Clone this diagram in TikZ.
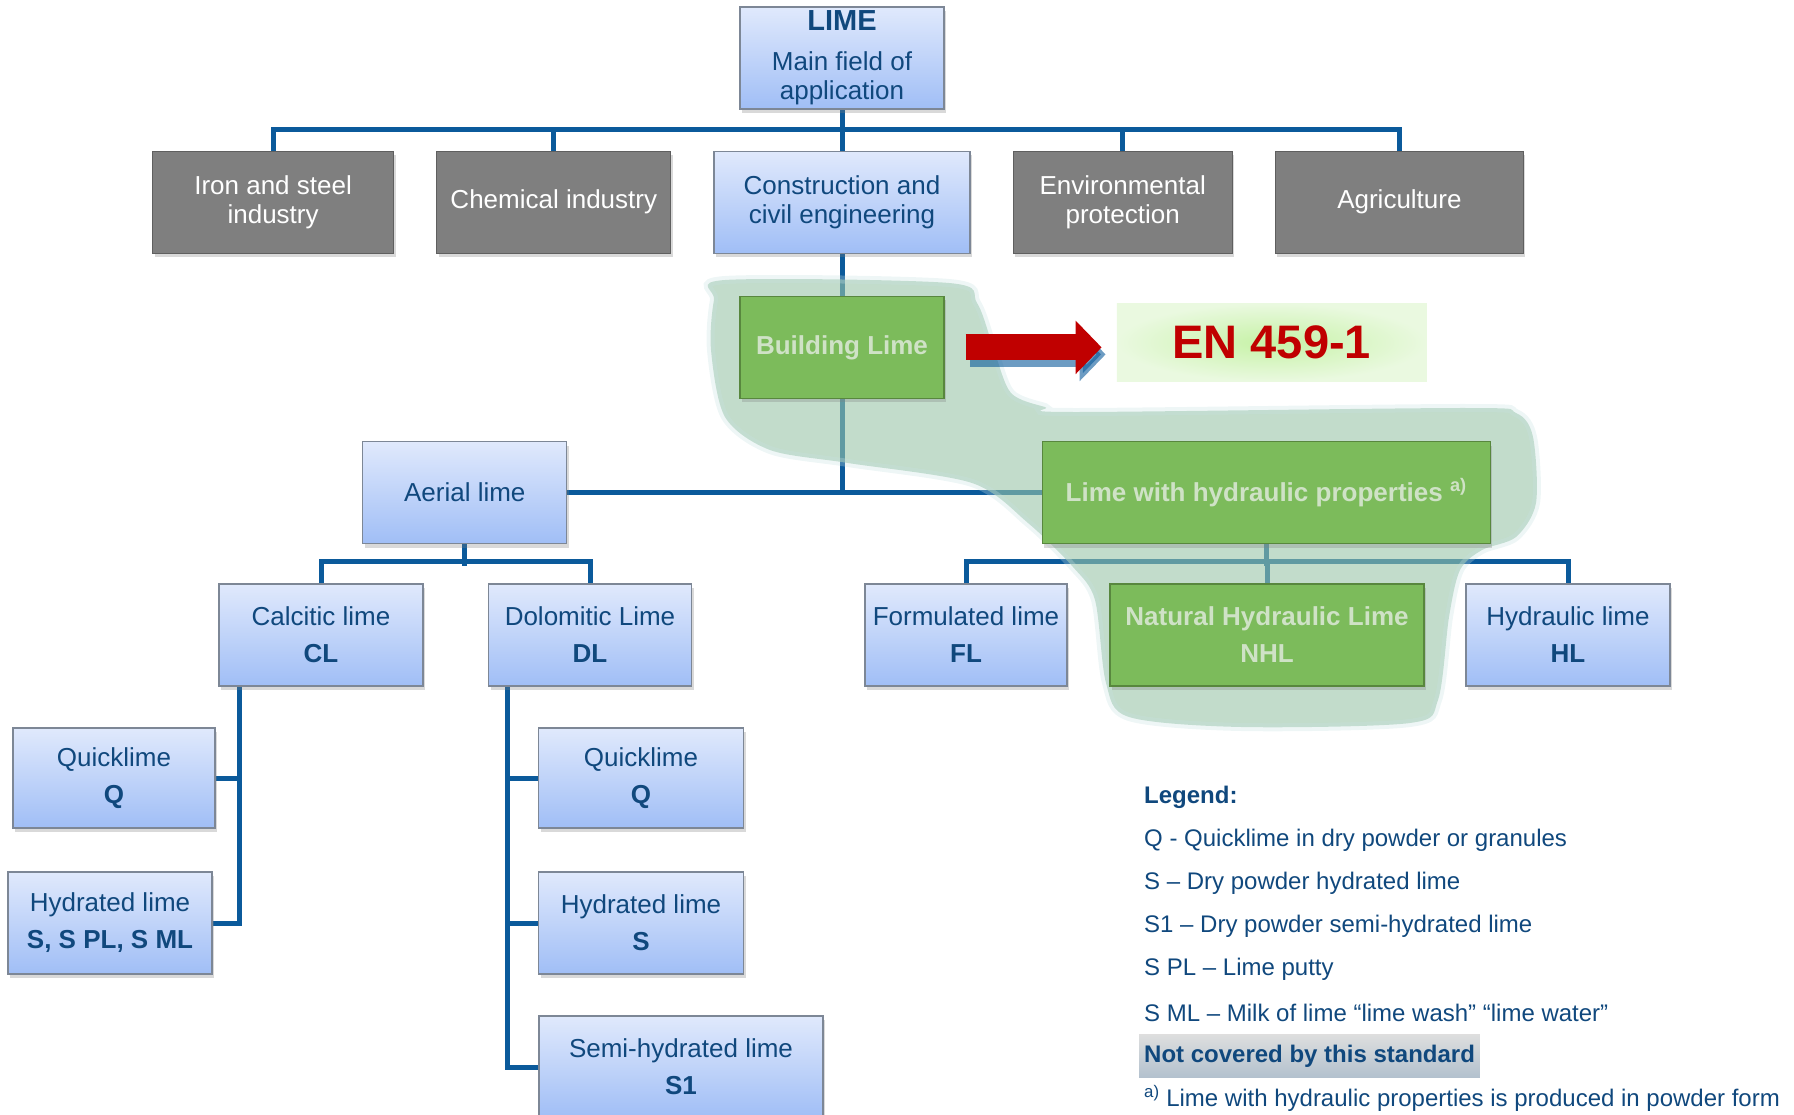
\documentclass[tikz,border=0pt]{standalone}
\usepackage{fontspec}
\setmainfont{Liberation Sans}
\usetikzlibrary{arrows.meta, positioning, shadows}

\definecolor{linkblue}{RGB}{11,90,155}
\definecolor{txtblue}{RGB}{16,72,125}
\definecolor{boxtop}{RGB}{224,233,252}
\definecolor{boxbot}{RGB}{160,190,246}
\definecolor{boxline}{RGB}{125,135,150}
\definecolor{grayfill}{RGB}{127,127,127}
\definecolor{grayline}{RGB}{95,95,95}
\definecolor{limegreen}{RGB}{124,187,91}
\definecolor{limeline}{RGB}{88,135,62}
\definecolor{limetext}{RGB}{207,226,198}
\definecolor{blobfill}{RGB}{153,197,168}
\definecolor{blobedge}{RGB}{200,225,225}
\definecolor{enred}{RGB}{192,0,0}
\definecolor{eninner}{RGB}{198,242,166}
\definecolor{enouter}{RGB}{234,249,224}
\definecolor{nctop}{RGB}{222,222,222}
\definecolor{ncbot}{RGB}{178,193,206}

\pgfdeclarelayer{back}
\pgfdeclarelayer{blob}
\pgfsetlayers{back,blob,main}

\tikzset{
  boxbase/.style={rectangle, draw, line width=1.2pt, minimum height=102pt, inner sep=2pt, align=center,
    font=\fontsize{26}{29}\selectfont, drop shadow={shadow xshift=2pt, shadow yshift=-4pt, opacity=0.3}},
  bluebox/.style={boxbase, draw=boxline, top color=boxtop, bottom color=boxbot, text=txtblue},
  graybox/.style={boxbase, draw=grayline, fill=grayfill, text=white},
  greenbox/.style={boxbase, draw=limeline, fill=limegreen, text=limetext, font=\fontsize{26}{29}\selectfont\bfseries},
  conn/.style={draw=linkblue, line width=5pt},
  legtext/.style={anchor=west, inner sep=0pt, text=txtblue, font=\fontsize{24}{28}\selectfont},
}

\begin{document}
\begin{tikzpicture}[x=1pt, y=-1pt]
    \useasboundingbox (0,0) rectangle (1794,1115);
    % Lime tree down to EN 459-1
    \node[bluebox, minimum width=204pt] (lime) at (842,58) {{\fontsize{29}{32}\selectfont\bfseries LIME}\\[11pt]Main field of\\application};
    \node[bluebox, minimum width=256pt, below=41pt of lime] (constr) {Construction and\\civil engineering};
    \node[graybox, minimum width=234pt, left=42pt of constr] (chem) {Chemical industry};
    \node[graybox, minimum width=241pt, left=42pt of chem] (iron) {Iron and steel\\industry};
    \node[graybox, minimum width=219pt, right=42pt of constr] (env) {Environmental\\protection};
    \node[graybox, minimum width=248pt, right=42pt of env] (agri) {Agriculture};
    \node[greenbox, minimum width=204pt, below=42pt of constr] (build) {Building Lime};
    \node[rectangle, minimum width=310pt, minimum height=78pt, inner color=eninner, outer color=enouter,
          text=enred, font=\fontsize{47}{50}\selectfont\bfseries, right=172pt of build, yshift=5pt] (en) {EN 459-1};
    \node[bluebox, minimum width=204pt, below left=42pt and 172pt of build] (aerial) {Aerial lime};
    \node[greenbox, minimum width=448pt, below right=42pt and 97pt of build] (hydr) {Lime with hydraulic properties \textsuperscript{a)}};

    \node[bluebox, minimum width=204pt] (calc) at (321,635) {Calcitic lime\\[8pt]\textbf{CL}};
    \node[bluebox, minimum width=203pt] (dolo) at (590,635) {Dolomitic Lime\\[8pt]\textbf{DL}};
    \node[bluebox, minimum width=202pt] (fl) at (966,635) {Formulated lime\\[8pt]\textbf{FL}};
    \node[greenbox, minimum width=314pt] (nhl) at (1267,635) {Natural Hydraulic Lime\\[8pt]NHL};
    \node[bluebox, minimum width=204pt] (hl) at (1568,635) {Hydraulic lime\\[8pt]\textbf{HL}};

    \node[bluebox, minimum width=202pt, minimum height=100pt] (quickl) at (114,778) {Quicklime\\[8pt]\textbf{Q}};
    \node[bluebox, minimum width=204pt] (hydrl) at (110,923) {Hydrated lime\\[8pt]\textbf{S, S PL, S ML}};
    \node[bluebox, minimum width=205pt, minimum height=100pt] (quickr) at (641,778) {Quicklime\\[8pt]\textbf{Q}};
    \node[bluebox, minimum width=205pt] (hydrr) at (641,923) {Hydrated lime\\[8pt]\textbf{S}};
    \node[bluebox, minimum width=284pt] (semi) at (681,1067) {Semi-hydrated lime\\[8pt]\textbf{S1}};

    \begin{pgfonlayer}{back}
        \draw[conn] (lime) -- (constr);
        \draw[conn] (iron.north) -- ++(0,-21) -| (agri.north);
        \draw[conn] (chem.north) -- ++(0,-21);
        \draw[conn] (env.north) -- ++(0,-21);
        \draw[conn] (constr) -- (build);
        \draw[conn] (build.south) |- (aerial.east);
        \draw[conn] (build.south) |- (hydr.west);
        \draw[conn] (aerial.south) -- ++(0,22);
        \draw[conn] (calc.north) -- ++(0,-22) -| (dolo.north);
        \draw[conn] (hydr.south) -- ++(0,22);
        \draw[conn] (fl.north) -- ++(0,-22) -| (hl.north);
        \draw[conn] (nhl.north) -- ++(0,-22);
        \draw[conn] ([xshift=21pt]calc.south west) |- (quickl.east);
        \draw[conn] ([xshift=21pt]calc.south west) |- (hydrl.east);
        \draw[conn] ([xshift=20pt]dolo.south west) |- (quickr.west);
        \draw[conn] ([xshift=20pt]dolo.south west) |- (hydrr.west);
        \draw[conn] ([xshift=20pt]dolo.south west) |- (semi.west);
    \end{pgfonlayer}

    \begin{pgfonlayer}{blob}
        \filldraw[fill=blobfill, fill opacity=0.6, draw=blobedge, draw opacity=0.3, line width=8pt]
            plot[smooth cycle, tension=0.5] coordinates {(725,280) (949,283) (977,303) (994,350) (1011,393)
            (1045,407) (1073,412) (1466,408) (1516,413) (1533,437) (1536,503) (1516,537) (1482,550)
            (1460,570) (1449,617) (1438,700) (1410,723) (1241,727) (1129,717) (1106,683) (1095,600)
            (1073,567) (1028,523) (972,483) (848,463) (770,450) (725,417) (711,350) (714,300)};
    \end{pgfonlayer}

    \draw[linkblue, opacity=0.6, line width=26pt, -{Triangle[length=26pt, width=52pt]}, shorten <=21pt, shorten >=15pt,
          transform canvas={xshift=4pt, yshift=-7pt}] (build.east) -- (build.east -| en.west);
    \draw[enred, line width=26pt, -{Triangle[length=26pt, width=52pt]}, shorten <=21pt, shorten >=15pt]
          (build.east) -- (build.east -| en.west);

    % Legend
    \node[legtext, font=\fontsize{24}{28}\selectfont\bfseries] (leg) at (1144,797) {Legend:};
    \node[legtext] (legq) at (1144,840) {Q - Quicklime in dry powder or granules};
    \node[legtext] (legs) at (1144,883) {S – Dry powder hydrated lime};
    \node[legtext] (legsa) at (1144,926) {S1 – Dry powder semi-hydrated lime};
    \node[legtext] (legpl) at (1144,969) {S PL – Lime putty};
    \node[legtext] (legml) at (1144,1013) {S ML – Milk of lime “lime wash” “lime water”};
    \node[legtext, inner xsep=5pt, minimum height=43pt, top color=nctop, bottom color=ncbot,
          font=\fontsize{24}{28}\selectfont\bfseries] (legnc) at (1139,1056) {Not covered by this standard};
    \node[legtext] (legfn) at (1144,1098) {\textsuperscript{a)} Lime with hydraulic properties is produced in powder form};
\end{tikzpicture}
\end{document}
